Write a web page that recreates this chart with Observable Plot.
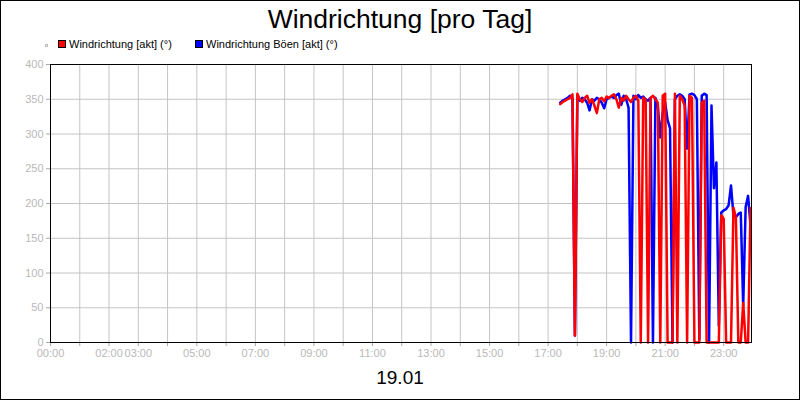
<!DOCTYPE html>
<html>
<head>
<meta charset="utf-8">
<script src="https://cdn.jsdelivr.net/npm/d3@7"></script>
<script src="https://cdn.jsdelivr.net/npm/@observablehq/plot@0.6"></script>
<style>
  body { margin: 0; background: #fff; font-family: "Liberation Sans", Arial, sans-serif; }
  #c { position: relative; width: 800px; height: 400px; box-sizing: border-box; border: 1px solid #000; overflow: hidden; background: #fff; }
  #title { position: absolute; left: 0; width: 798px; top: 5px; text-align: center; font-size: 26.5px; line-height: 26.5px; color: #000; white-space: nowrap; }
  #legend { position: absolute; left: 0; top: 0; width: 798px; height: 55px; }
  .sw { position: absolute; box-sizing: border-box; }
  .lt { position: absolute; font-size: 11px; line-height: 11px; color: #000; white-space: nowrap; }
  #chart { position: absolute; left: 0; top: 55px; }
  #date { position: absolute; left: 0; width: 798px; top: 367px; text-align: center; font-size: 19px; line-height: 19px; color: #000; }
</style>
</head>
<body>
<div id="c">
  <div id="title"></div>
  <div id="legend"></div>
  <div id="chart"></div>
  <div id="date"></div>
</div>
<script>
const chartTitle = "Windrichtung [pro Tag]";
const dateLabel = "19.01";
const seriesNames = ["Windrichtung [akt] (°)", "Windrichtung Böen [akt] (°)"];
const seriesColors = ["#ff0000", "#0000ff"];

const times = [
  "17:25","17:30","17:35","17:40","17:45","17:50","17:55","18:00","18:05","18:10",
  "18:15","18:20","18:25","18:30","18:35","18:40","18:45","18:50","18:55","19:00",
  "19:05","19:10","19:15","19:20","19:25","19:30","19:35","19:40","19:45","19:50",
  "19:55","20:00","20:05","20:10","20:15","20:20","20:25","20:30","20:35","20:40",
  "20:45","20:50","20:55","21:00","21:05","21:10","21:15","21:20","21:25","21:30",
  "21:35","21:40","21:45","21:50","21:55","22:00","22:05","22:10","22:15","22:20",
  "22:25","22:30","22:35","22:40","22:45","22:50","22:55","23:00","23:05","23:10",
  "23:15","23:20","23:25","23:30","23:35","23:40","23:45","23:50","23:55"
];

const dirValues = [
  343,346,348,350,352,357,10,358,350,346,
  352,355,345,350,341,330,350,352,347,354,
  352,355,357,350,338,352,348,355,350,346,
  352,355,348,0,352,350,0,352,355,350,
  345,0,355,358,0,0,0,358,0,355,
  350,341,0,355,352,0,0,0,345,348,
  0,0,0,0,0,0,183,178,0,0,
  0,194,180,0,0,57,0,0,193
];

const gustValues = [
  345,348,350,352,355,352,10,355,348,352,
  350,345,334,350,348,352,350,345,337,350,
  352,354,352,356,358,342,355,350,338,0,
  355,350,356,352,354,350,348,352,0,352,
  340,295,330,345,320,308,0,350,355,357,
  355,350,279,357,358,356,350,5,355,358,
  356,0,341,222,259,24,187,190,192,197,
  226,183,180,185,187,53,195,211,168
];

const yTicks = [0, 50, 100, 150, 200, 250, 300, 350, 400];
const gridHours = ["00:00","01:00","02:00","03:00","04:00","05:00","06:00","07:00","08:00","09:00","10:00","11:00",
                   "12:00","13:00","14:00","15:00","16:00","17:00","18:00","19:00","20:00","21:00","22:00","23:00"];
const xTickLabels = ["00:00","02:00","03:00","05:00","07:00","09:00","11:00","13:00","15:00","17:00","19:00","21:00","23:00"];
const xDomain = ["00:00", "23:57"];

const toMin = s => (+s.slice(0, 2)) * 60 + (+s.slice(3, 5));

document.getElementById("title").textContent = chartTitle;
document.getElementById("date").textContent = dateLabel;

// legend
const legend = document.getElementById("legend");
const tiny = document.createElement("div");
tiny.className = "sw";
Object.assign(tiny.style, { left: "44px", top: "43px", width: "3px", height: "3px", border: "1px solid #bbb" });
legend.appendChild(tiny);
const legendPos = [57, 194];
seriesNames.forEach((name, k) => {
  const sw = document.createElement("div");
  sw.className = "sw";
  Object.assign(sw.style, { left: legendPos[k] + "px", top: "39px", width: "8px", height: "8px", background: seriesColors[k], border: "1px solid #000" });
  legend.appendChild(sw);
  const t = document.createElement("div");
  t.className = "lt";
  t.textContent = name;
  Object.assign(t.style, { left: (legendPos[k] + 11) + "px", top: "38px" });
  legend.appendChild(t);
});

const red = times.map((t, i) => ({ t: toMin(t), v: dirValues[i] }));
const blue = times.map((t, i) => ({ t: toMin(t), v: gustValues[i] }));
const hourTicks = gridHours.map(toMin);
const labelSet = new Set(xTickLabels);

const plot = Plot.plot({
  width: 798,
  height: 306,
  marginLeft: 49,
  marginRight: 48,
  marginTop: 8,
  marginBottom: 20,
  style: { fontFamily: "Liberation Sans, Arial, sans-serif", fontSize: "11px", background: "#fff", overflow: "visible" },
  x: { type: "linear", domain: xDomain.map(toMin) },
  y: { domain: [0, 400] },
  marks: [
    Plot.gridX(hourTicks, { stroke: "#c4c4c4", strokeOpacity: 1, strokeWidth: 1 }),
    Plot.gridY(yTicks, { stroke: "#c4c4c4", strokeOpacity: 1, strokeWidth: 1 }),
    Plot.axisY(yTicks, { tickSize: 4, tickPadding: 3, stroke: "#a8a8a8", fill: "#b8b8b8", label: null }),
    Plot.axisX(hourTicks, {
      tickSize: 4, tickPadding: 3, stroke: "#a8a8a8", fill: "#b8b8b8", label: null,
      tickFormat: m => { const s = gridHours[Math.round(m / 60)]; return labelSet.has(s) ? s : ""; }
    }),
    Plot.lineY(blue, { x: "t", y: "v", stroke: seriesColors[1], strokeWidth: 2.5, strokeLinejoin: "round" }),
    Plot.lineY(red, { x: "t", y: "v", stroke: seriesColors[0], strokeWidth: 2.5, strokeLinejoin: "round" }),
    Plot.frame({ stroke: "#000", strokeWidth: 1 })
  ]
});
document.getElementById("chart").appendChild(plot);
</script>
</body>
</html>
